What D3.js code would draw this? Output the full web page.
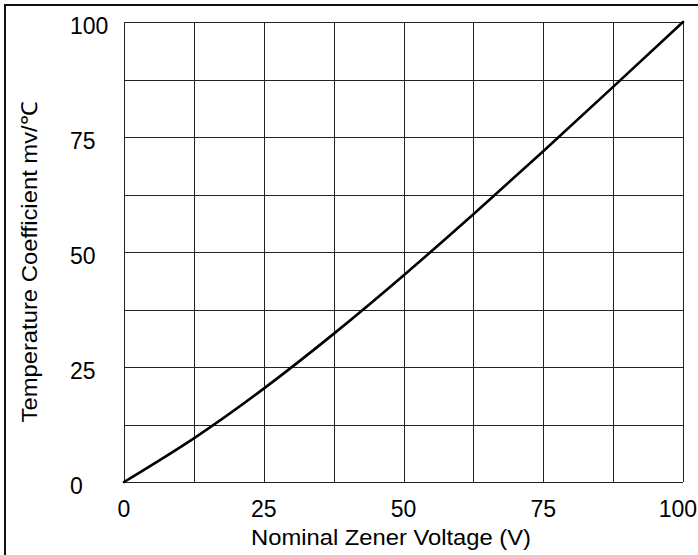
<!DOCTYPE html>
<html>
<head>
<meta charset="utf-8">
<script src="https://cdn.jsdelivr.net/npm/d3@7"></script>
<style>
  html, body { margin: 0; padding: 0; background: #fff; }
  svg { display: block; }
  text { font-family: "Liberation Sans", Arial, sans-serif; fill: #000; }
</style>
</head>
<body>
<svg id="chart" width="698" height="555"></svg>
<script>
// ---- data ----
const xTicks = [0, 25, 50, 75, 100];
const yTicks = [0, 25, 50, 75, 100];
const gridValues = [0, 12.5, 25, 37.5, 50, 62.5, 75, 87.5, 100];
const voltage  = [0, 12.5, 25, 37.5, 50, 62.5, 75, 87.5, 100];
const tempCoef = [0, 9.5, 20.3, 32.2, 44.9, 58.2, 71.9, 85.9, 100];
const xTitle = "Nominal Zener Voltage (V)";
const yTitle = "Temperature Coefficient mv/℃";

// ---- layout ----
const W = 698, H = 555;
const plot = { left: 124, top: 22, right: 683, bottom: 482 };

const svg = d3.select("#chart");

// outer frame (left & top visible, rest cropped)
svg.append("rect")
  .attr("x", 5).attr("y", 5)
  .attr("width", W + 10).attr("height", H + 10)
  .attr("fill", "none").attr("stroke", "#111").attr("stroke-width", 2);

const x = d3.scaleLinear().domain([0, 100]).range([plot.left, plot.right]);
const y = d3.scaleLinear().domain([0, 100]).range([plot.bottom, plot.top]);

// grid
const grid = svg.append("g").attr("stroke", "#222").attr("stroke-width", 1).attr("shape-rendering", "crispEdges");
grid.selectAll("line.v").data(gridValues).join("line")
  .attr("class", "v")
  .attr("x1", d => Math.round(x(d)) + 0.5).attr("x2", d => Math.round(x(d)) + 0.5)
  .attr("y1", y(0)).attr("y2", y(100));
grid.selectAll("line.h").data(gridValues).join("line")
  .attr("class", "h")
  .attr("y1", d => Math.round(y(d)) + 0.5).attr("y2", d => Math.round(y(d)) + 0.5)
  .attr("x1", x(0)).attr("x2", x(100));

// y tick labels (left aligned)
svg.append("g").selectAll("text").data(yTicks).join("text")
  .attr("x", 70)
  .attr("y", d => y(d) + 12)
  .attr("text-anchor", "start")
  .attr("font-size", 23)
  .text(d => d);

// x tick labels
const xl = svg.append("g").selectAll("text").data(xTicks).join("text")
  .attr("x", d => x(d))
  .attr("y", 517)
  .attr("text-anchor", "middle")
  .attr("font-size", 23)
  .text(d => d);
xl.each(function() {
  const t = d3.select(this);
  const w = this.getComputedTextLength();
  const cx = +t.attr("x");
  if (cx + w / 2 > W - 1) t.attr("x", W - 1 - w / 2);
});

// axis titles
svg.append("text")
  .attr("x", 391).attr("y", 545)
  .attr("text-anchor", "middle")
  .attr("font-size", 22)
  .attr("textLength", 280)
  .attr("lengthAdjust", "spacingAndGlyphs")
  .text(xTitle);

svg.append("text")
  .attr("transform", "translate(37,262) rotate(-90)")
  .attr("text-anchor", "middle")
  .attr("font-size", 22)
  .attr("textLength", 321)
  .attr("lengthAdjust", "spacingAndGlyphs")
  .text(yTitle);

// curve
const pts = voltage.map((v, i) => [v, tempCoef[i]]);
const line = d3.line().x(d => x(d[0])).y(d => y(d[1])).curve(d3.curveNatural);
svg.append("path")
  .datum(pts)
  .attr("d", line)
  .attr("fill", "none")
  .attr("stroke", "#000")
  .attr("stroke-width", 2.6)
  .attr("stroke-linecap", "round");
</script>
</body>
</html>
